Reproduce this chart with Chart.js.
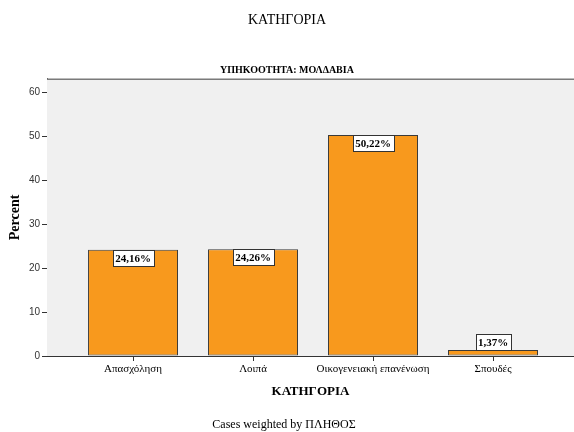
<!DOCTYPE html>
<html>
<head>
<meta charset="utf-8">
<script src="https://cdn.jsdelivr.net/npm/chart.js@4"></script>
<style>
html,body{margin:0;padding:0;background:#fff;}
#wrap{width:574px;height:432px;}
</style>
</head>
<body>
<div id="wrap"><canvas id="chart" width="574" height="432"></canvas></div>
<script>
// data
const categories = ["Απασχόληση", "Λοιπά", "Οικογενειακή επανένωση", "Σπουδές"];
const percents = [24.16, 24.26, 50.22, 1.37];
const yTicks = [0, 10, 20, 30, 40, 50, 60];

const serif = "'Liberation Serif', 'Times New Roman', serif";
const sans = "'Liberation Sans', Arial, sans-serif";

// plot background + top border + footer
const frame = {
  id: "frame",
  beforeDatasetsDraw(chart) {
    const {ctx, chartArea: a} = chart;
    ctx.save();
    ctx.fillStyle = "#f0f0f0";
    ctx.fillRect(a.left, a.top, a.right - a.left, a.bottom - a.top);
    ctx.strokeStyle = "#7a7a7a";
    ctx.lineWidth = 1.5;
    ctx.beginPath();
    ctx.moveTo(a.left, a.top + 0.5);
    ctx.lineTo(a.right, a.top + 0.5);
    ctx.stroke();
    ctx.restore();
  },
  afterDraw(chart) {
    const ctx = chart.ctx;
    ctx.save();
    ctx.fillStyle = "#000";
    ctx.font = "12px " + serif;
    ctx.textAlign = "center";
    ctx.textBaseline = "middle";
    ctx.fillText("Cases weighted by ΠΛΗΘΟΣ", 284, 425);
    ctx.restore();
  }
};

// value boxes on bars
const valueBoxes = {
  id: "valueBoxes",
  afterDatasetsDraw(chart) {
    const ctx = chart.ctx;
    const meta = chart.getDatasetMeta(0);
    ctx.save();
    ctx.font = "bold 11px " + serif;
    ctx.textAlign = "center";
    ctx.textBaseline = "middle";
    meta.data.forEach((bar, i) => {
      const txt = percents[i].toFixed(2).replace(".", ",") + "%";
      const w = Math.round(ctx.measureText(txt).width) + 5;
      const h = 16;
      const x = Math.round(bar.x - w / 2) + 0.5;
      let top = Math.round(bar.y) + 0.5;
      if (bar.base - bar.y < h + 2) top = Math.round(bar.y) - h + 0.5;
      ctx.fillStyle = "#fff";
      ctx.fillRect(x, top, w, h);
      ctx.strokeStyle = "#333";
      ctx.lineWidth = 1;
      ctx.strokeRect(x, top, w, h);
      ctx.fillStyle = "#000";
      ctx.fillText(txt, bar.x, top + h / 2 + 0.5);
    });
    ctx.restore();
  }
};

new Chart(document.getElementById("chart"), {
  type: "bar",
  data: {
    datasets: [{
      data: percents.map((v, i) => ({x: i, y: v})),
      backgroundColor: "#f8991d",
      borderColor: "#3a3a3a",
      borderWidth: 1,
      borderSkipped: false,
      categoryPercentage: 1,
      barPercentage: 0.75
    }]
  },
  options: {
    responsive: false,
    animation: false,
    layout: {padding: {top: 0, right: 0, bottom: 33, left: 0}},
    plugins: {
      legend: {display: false},
      tooltip: {enabled: false},
      title: {
        display: true,
        text: "ΚΑΤΗΓΟΡΙΑ",
        color: "#000",
        font: {family: serif, size: 14, weight: "normal"},
        padding: {top: 12, bottom: 35.5}
      },
      subtitle: {
        display: true,
        text: "ΥΠΗΚΟΟΤΗΤΑ: ΜΟΛΔΑΒΙΑ",
        color: "#000",
        font: {family: serif, size: 10, weight: "bold"},
        padding: {top: 0, bottom: 2.5}
      }
    },
    scales: {
      x: {
        type: "linear",
        offset: false,
        min: -0.717,
        max: 3.675,
        afterBuildTicks: s => { s.ticks = categories.map((c, i) => ({value: i})); },
        afterFit: s => { s.height = 43; },
        ticks: {
          autoSkip: false,
          maxRotation: 0,
          padding: 2,
          color: "#000",
          font: {family: serif, size: 11},
          callback: v => categories[v] ?? ""
        },
        grid: {display: true, offset: false, drawOnChartArea: false, tickLength: 5, color: "#333"},
        border: {display: true, color: "#333", width: 1},
        title: {
          display: true,
          text: "ΚΑΤΗΓΟΡΙΑ",
          color: "#000",
          font: {family: serif, size: 13, weight: "bold"},
          padding: {top: 0, bottom: 0}
        }
      },
      y: {
        min: 0,
        max: 63,
        afterBuildTicks: s => { s.ticks = yTicks.map(v => ({value: v})); },
        afterFit: s => { s.width = 47; },
        ticks: {
          padding: 2,
          color: "#333",
          font: {family: sans, size: 10}
        },
        grid: {display: true, drawOnChartArea: false, tickLength: 5, color: "#333"},
        border: {display: true, color: "#333", width: 1},
        title: {
          display: true,
          text: "Percent",
          color: "#000",
          font: {family: serif, size: 14, weight: "bold"},
          padding: {top: 7, bottom: 0}
        }
      }
    }
  },
  plugins: [frame, valueBoxes]
});
</script>
</body>
</html>
